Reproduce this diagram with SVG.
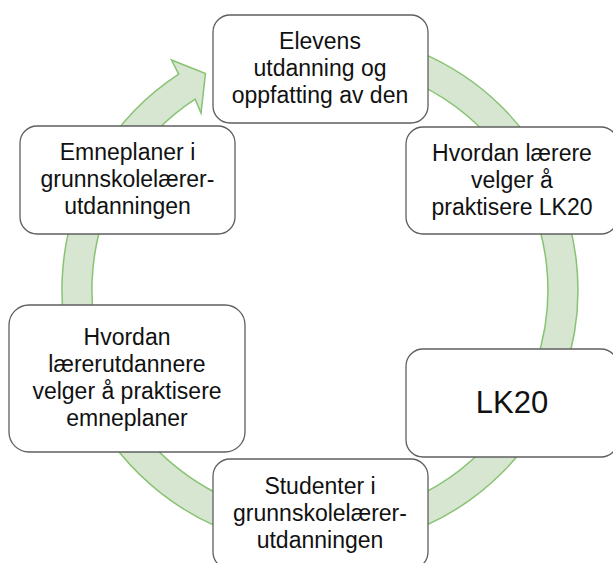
<svg xmlns="http://www.w3.org/2000/svg" width="613" height="563" viewBox="0 0 613 563">
<style>
.box{fill:#ffffff;stroke:#5f5f5f;stroke-width:1.3}
.t{font-family:"Liberation Sans",Arial,sans-serif;font-size:23px;fill:#111;text-anchor:middle}
.big{font-size:31px}
.ring{fill:#d6e6d0;stroke:#88c373;stroke-width:1.5;stroke-linejoin:miter}
</style>
<rect width="613" height="563" fill="#ffffff"/>
<g id="connectors">
<path class="ring" d="M 320 32 A 258 258 0 1 1 178.7 74.1 L 171.5 60 L 205.5 73.5 L 201 113 L 195.1 99.2 A 228 228 0 1 0 320 62 Z"/>
</g>
<g id="n-elevens">
<rect class="box" x="213" y="15" width="215" height="108" rx="17"/>
<text class="t" x="320" y="49">Elevens</text>
<text class="t" x="320" y="76">utdanning og</text>
<text class="t" x="320" y="103">oppfatting av den</text>
</g>
<g id="n-hvordan-larere">
<rect class="box" x="406" y="127" width="212" height="107" rx="17"/>
<text class="t" x="512" y="161">Hvordan lærere</text>
<text class="t" x="512" y="188">velger å</text>
<text class="t" x="512" y="215">praktisere LK20</text>
</g>
<g id="n-lk20">
<rect class="box" x="406" y="349" width="212" height="108" rx="17"/>
<text class="t big" x="512" y="413">LK20</text>
</g>
<g id="n-studenter">
<rect class="box" x="213" y="459" width="215" height="110" rx="17"/>
<text class="t" x="320" y="494">Studenter i</text>
<text class="t" x="320" y="521">grunnskolelærer-</text>
<text class="t" x="320" y="548">utdanningen</text>
</g>
<g id="n-lerer-utdannere">
<rect class="box" x="9" y="305" width="236" height="147" rx="20"/>
<text class="t" x="127" y="345">Hvordan</text>
<text class="t" x="127" y="372">lærerutdannere</text>
<text class="t" x="127" y="399">velger å praktisere</text>
<text class="t" x="127" y="426">emneplaner</text>
</g>
<g id="n-emneplaner">
<rect class="box" x="20" y="126" width="215" height="108" rx="17"/>
<text class="t" x="127.5" y="160">Emneplaner i</text>
<text class="t" x="127.5" y="187">grunnskolelærer-</text>
<text class="t" x="127.5" y="214">utdanningen</text>
</g>
</svg>
